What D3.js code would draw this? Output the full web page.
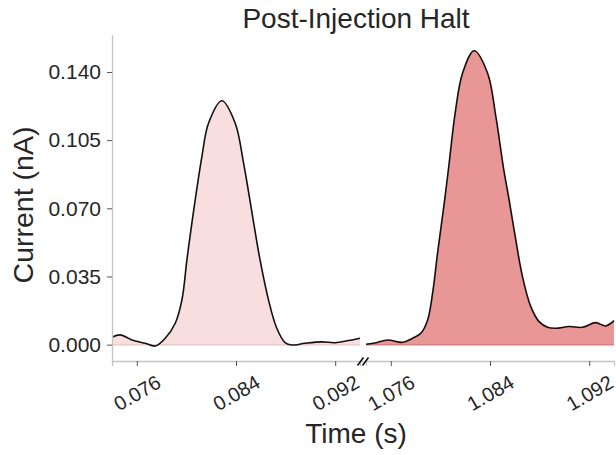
<!DOCTYPE html>
<html>
<head>
<meta charset="utf-8">
<script src="https://cdn.jsdelivr.net/npm/d3@7"></script>
<style>
  html, body { margin: 0; padding: 0; background: #fff; }
  svg { display: block; }
  text { font-family: "Liberation Sans", Arial, Helvetica, sans-serif; fill: #262626; }
</style>
</head>
<body>
<svg id="chart" width="616" height="455"></svg>
<script>
// ---- data ----
const leftTime = [0.07400, 0.07467, 0.07561, 0.07668, 0.07749, 0.07829, 0.07910, 0.07964, 0.08004, 0.08044,
  0.08125, 0.08179, 0.08286, 0.08393, 0.08461, 0.08536, 0.08594, 0.08662, 0.08729,
  0.08796, 0.08850, 0.08957, 0.09091, 0.09198, 0.09306, 0.09400];
const leftCurrent = [0.0038, 0.0050, 0.0024, 0.0007, -0.0007, 0.0033, 0.0110, 0.0230, 0.0435, 0.0624,
  0.0966, 0.1138, 0.1252, 0.1138, 0.0932, 0.0650, 0.0435, 0.0230, 0.0084,
  0.0010, -0.0002, 0.0007, 0.0014, 0.0010, 0.0021, 0.0033];
const rightTime = [1.07400, 1.07481, 1.07575, 1.07696, 1.07776, 1.07843, 1.07897, 1.07937, 1.07977, 1.08031,
  1.08066, 1.08119, 1.08179, 1.08272, 1.08380, 1.08447, 1.08509, 1.08554, 1.08608, 1.08662,
  1.08729, 1.08796, 1.08864, 1.08930, 1.09038, 1.09145, 1.09252, 1.09333, 1.09400];
const rightCurrent = [0.0002, 0.0010, 0.0024, 0.0012, 0.0033, 0.0059, 0.0127, 0.0264, 0.0470, 0.0727,
  0.0907, 0.1189, 0.1395, 0.1509, 0.1395, 0.1172, 0.0907, 0.0744, 0.0538, 0.0349,
  0.0195, 0.0118, 0.0089, 0.0084, 0.0093, 0.0089, 0.0113, 0.0096, 0.0123];
const yTicks = [0.000, 0.035, 0.070, 0.105, 0.140];
const leftXTicks = [0.076, 0.084, 0.092];
const rightXTicks = [1.076, 1.084, 1.092];
const titleText = "Post-Injection Halt";
const xLabel = "Time (s)";
const yLabel = "Current (nA)";

// ---- layout ----
const svg = d3.select("#chart");
const plotTop = 35, plotBottom = 361;
const leftRange = [112, 360], rightRange = [366, 614];

const y = d3.scaleLinear().domain([-0.0084, 0.159]).range([plotBottom, plotTop]);
const xL = d3.scaleLinear().domain([0.074, 0.094]).range(leftRange);
const xR = d3.scaleLinear().domain([1.074, 1.094]).range(rightRange);

const spineColor = "#c4c4c4";
const tickColor = "#555";

function panel(x, times, vals, fillColor, baseColor, ticks, clipId) {
  const data = times.map((t, i) => ({ t, v: vals[i] }));
  const g = svg.append("g");
  g.append("clipPath").attr("id", clipId)
    .append("rect")
    .attr("x", x.range()[0]).attr("y", plotTop)
    .attr("width", x.range()[1] - x.range()[0] + 1).attr("height", plotBottom - plotTop);
  const plot = g.append("g").attr("clip-path", `url(#${clipId})`);
  const curve = d3.curveCatmullRom.alpha(0.5);
  const area = d3.area().x(d => x(d.t)).y0(y(0)).y1(d => y(d.v)).curve(curve);
  const line = d3.line().x(d => x(d.t)).y(d => y(d.v)).curve(curve);
  plot.append("path").datum(data).attr("d", area).attr("fill", fillColor);
  plot.append("line")
    .attr("x1", x.range()[0]).attr("x2", x(times[times.length - 1]))
    .attr("y1", y(0)).attr("y2", y(0))
    .attr("stroke", baseColor).attr("stroke-width", 1.5);
  plot.append("path").datum(data).attr("d", line)
    .attr("fill", "none").attr("stroke", "#111").attr("stroke-width", 1.6);

  const ax = g.append("g").attr("transform", `translate(0,${plotBottom})`)
    .call(d3.axisBottom(x).tickValues(ticks).tickFormat(d3.format(".3f")).tickSize(5).tickPadding(3));
  ax.select(".domain").attr("stroke", spineColor).attr("stroke-width", 1.3);
  ax.selectAll(".tick line").attr("stroke", tickColor).attr("stroke-width", 1);
  ax.selectAll(".tick text")
    .attr("font-size", "20px").attr("fill", "#262626")
    .attr("text-anchor", "middle").attr("dy", null).attr("y", null)
    .attr("dominant-baseline", "central")
    .attr("transform", "translate(0,32) rotate(-30)");
  return g;
}

panel(xL, leftTime, leftCurrent, "#f8dedf", "#f4c6ca", leftXTicks, "clipL");
panel(xR, rightTime, rightCurrent, "#e99697", "#e27a7d", rightXTicks, "clipR");

// join bottom spine across the break
svg.append("line").attr("x1", leftRange[1]).attr("x2", rightRange[0])
  .attr("y1", plotBottom + 0.5).attr("y2", plotBottom + 0.5)
  .attr("stroke", spineColor).attr("stroke-width", 1.3);

// y axis
const yAx = svg.append("g").attr("transform", `translate(${leftRange[0]},0)`)
  .call(d3.axisLeft(y).tickValues(yTicks).tickFormat(d3.format(".3f")).tickSize(5).tickPadding(6));
yAx.select(".domain").attr("stroke", spineColor).attr("stroke-width", 1.3)
  .attr("d", `M0.5,${plotTop}V${plotBottom}`);
yAx.selectAll(".tick line").attr("stroke", tickColor);
yAx.selectAll(".tick text").attr("font-size", "21px").attr("fill", "#262626");

// break marks "//"
const bx = (leftRange[1] + rightRange[0]) / 2, by = plotBottom + 0.5;
[-2.5, 2.5].forEach(off => {
  svg.append("line")
    .attr("x1", bx + off - 3).attr("y1", by + 4)
    .attr("x2", bx + off + 3).attr("y2", by - 4)
    .attr("stroke", "#111").attr("stroke-width", 1.6);
});

// labels
svg.append("text").attr("x", 356).attr("y", 28).attr("text-anchor", "middle")
  .attr("font-size", "28px").text(titleText);
svg.append("text").attr("x", 356).attr("y", 443).attr("text-anchor", "middle")
  .attr("font-size", "28px").text(xLabel);
svg.append("text").attr("transform", "translate(33,205) rotate(-90)")
  .attr("text-anchor", "middle").attr("font-size", "28.5px").text(yLabel);
</script>
</body>
</html>
